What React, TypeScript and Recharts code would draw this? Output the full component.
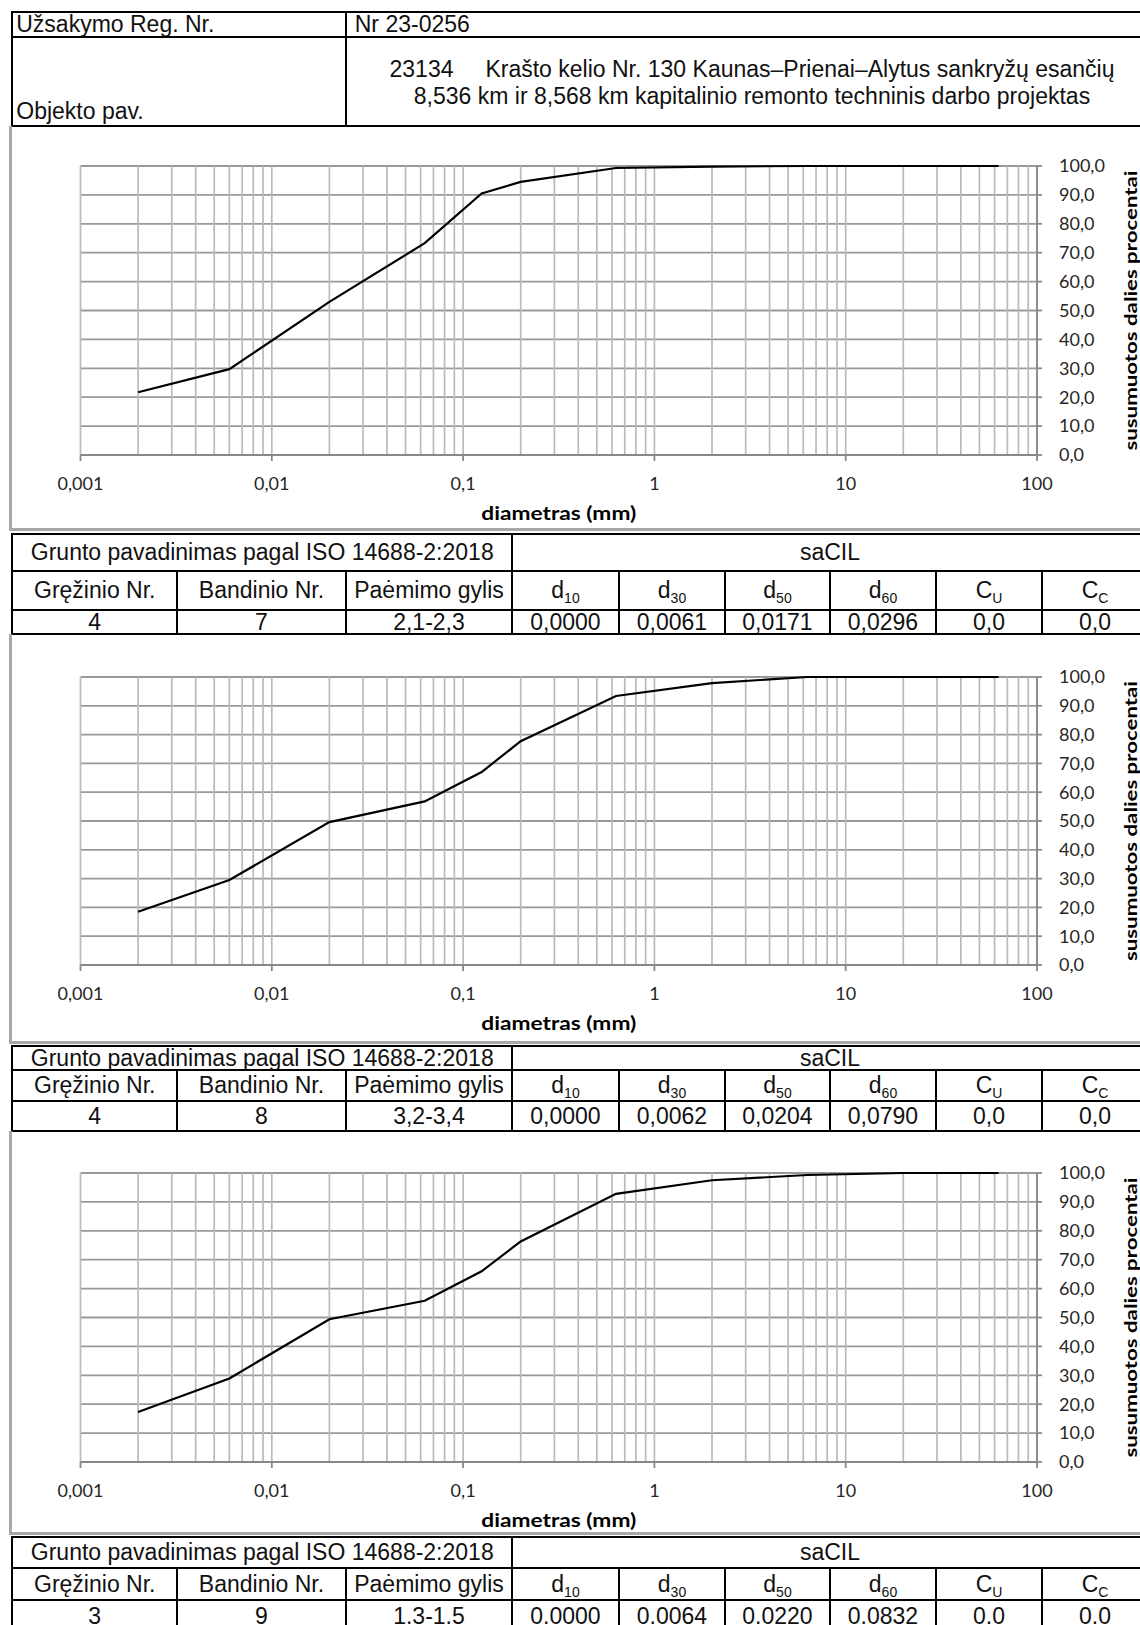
import React from 'react';
import { LineChart, Line, XAxis, YAxis, CartesianGrid, ReferenceLine, Label } from 'recharts';

// ---- data ----
const sieveSizes = [0.002, 0.006, 0.02, 0.063, 0.125, 0.2, 0.63, 2, 6.3, 20, 63];
const passing1 = [21.7, 29.7, 53.0, 73.3, 90.5, 94.5, 99.3, 99.8, 100, 100, 100];
const passing2 = [18.5, 29.5, 49.6, 56.8, 67.0, 77.7, 93.4, 97.9, 100, 100, 100];
const passing3 = [17.3, 28.9, 49.4, 55.8, 66.0, 76.3, 92.8, 97.5, 99.3, 100, 100];

const xTicks = [0.001, 0.01, 0.1, 1, 10, 100];
const yTicks = [0, 10, 20, 30, 40, 50, 60, 70, 80, 90, 100];
const gridX = [
  0.001, 0.002, 0.003, 0.004, 0.005, 0.006, 0.007, 0.008, 0.009,
  0.01, 0.02, 0.03, 0.04, 0.05, 0.06, 0.07, 0.08, 0.09,
  0.1, 0.2, 0.3, 0.4, 0.5, 0.6, 0.7, 0.8, 0.9,
  1, 2, 3, 4, 5, 6, 7, 8, 9,
  10, 20, 30, 40, 50, 60, 70, 80, 90, 100,
];

const orderNo = 'Nr 23-0256';
const objectLine1 = '23134\u00a0\u00a0\u00a0\u00a0\u00a0Krašto kelio Nr. 130 Kaunas–Prienai–Alytus sankryžų esančių';
const objectLine2 = '8,536 km ir 8,568 km kapitalinio remonto techninis darbo projektas';
const soilStdLabel = 'Grunto pavadinimas pagal ISO 14688-2:2018';
const soilNames = ['saCIL', 'saCIL', 'saCIL'];
const boreholes = ['4', '4', '3'];
const samples = ['7', '8', '9'];
const depths = ['2,1-2,3', '3,2-3,4', '1.3-1.5'];
const d10 = ['0,0000', '0,0000', '0.0000'];
const d30 = ['0,0061', '0,0062', '0.0064'];
const d50 = ['0,0171', '0,0204', '0.0220'];
const d60 = ['0,0296', '0,0790', '0.0832'];
const cu = ['0,0', '0,0', '0.0'];
const cc = ['0,0', '0,0', '0.0'];
const passingSets = [passing1, passing2, passing3];

// ---- layout ----
const SECTIONS = [
  { top: 126, bottom: 531, plotTop: 166, plotBottom: 455 },
  { top: 634, bottom: 1044, plotTop: 677, plotBottom: 965 },
  { top: 1131, bottom: 1535, plotTop: 1173, plotBottom: 1462 },
];
const TABLES = [
  [534, 571, 610, 634],
  [1046, 1070, 1101, 1131],
  [1537, 1568, 1600, 1632],
];
const COLS = [12.5, 177, 346, 512, 619, 725, 830, 936, 1042, 1148];

const tableFont = "'Liberation Sans', Arial, sans-serif";
const chartFont = "Lato, 'Open Sans', sans-serif";

function Cell({ x1, x2, y1, y2, children, align = 'center', valign = 'center', pad = 0, style = {} }: any) {
  return (
    <div
      style={{
        position: 'absolute',
        left: x1 - 1.25,
        top: y1 - 1.25,
        width: x2 - x1 + 2.5,
        height: y2 - y1 + 2.5,
        border: '2.5px solid #000',
        boxSizing: 'border-box',
        display: 'flex',
        alignItems: valign === 'center' ? 'center' : valign === 'bottom' ? 'flex-end' : 'flex-start',
        justifyContent: align === 'center' ? 'center' : 'flex-start',
        paddingLeft: pad,
        fontFamily: tableFont,
        fontSize: 23,
        color: '#111',
        whiteSpace: 'nowrap',
        overflow: 'visible',
        lineHeight: 1,
        background: '#fff',
        ...style,
      }}
    >
      {children}
    </div>
  );
}

const Sub = ({ b, s }: any) => (
  <span>
    {b}
    <span style={{ fontSize: 14, position: 'relative', top: 5 }}>{s}</span>
  </span>
);

function SoilTable({ idx }: { idx: number }) {
  const [r0, r1, r2, r3] = TABLES[idx];
  const heads = [
    'Gręžinio Nr.',
    'Bandinio Nr.',
    'Paėmimo gylis',
    <Sub b="d" s="10" />,
    <Sub b="d" s="30" />,
    <Sub b="d" s="50" />,
    <Sub b="d" s="60" />,
    <Sub b="C" s="U" />,
    <Sub b="C" s="C" />,
  ];
  const vals = [boreholes[idx], samples[idx], depths[idx], d10[idx], d30[idx], d50[idx], d60[idx], cu[idx], cc[idx]];
  return (
    <>
      <Cell x1={COLS[0]} x2={COLS[3]} y1={r0} y2={r1}>{soilStdLabel}</Cell>
      <Cell x1={COLS[3]} x2={COLS[9]} y1={r0} y2={r1}>{soilNames[idx]}</Cell>
      {heads.map((h, i) => (
        <Cell key={'h' + i} x1={COLS[i]} x2={COLS[i + 1]} y1={r1} y2={r2}>{h}</Cell>
      ))}
      {vals.map((v, i) => (
        <Cell key={'v' + i} x1={COLS[i]} x2={COLS[i + 1]} y1={r2} y2={r3}>{v}</Cell>
      ))}
    </>
  );
}

const fmtX = (v: number) => String(v).replace('.', ',');
const fmtY = (v: number) => v.toFixed(1).replace('.', ',');

const XTitle = (props: any) => {
  const vb = props.viewBox || { x: 0, y: 0, width: 0, height: 0 };
  const x = vb.x + vb.width / 2;
  const y = vb.y + 57;
  return (
    <text
      x={x}
      y={y}
      textAnchor="middle"
      dominantBaseline="central"
      fontFamily={chartFont}
      fontWeight={700}
      fontSize={19}
      fill="#000"
      textLength={155}
      lengthAdjust="spacingAndGlyphs"
    >
      diametras (mm)
    </text>
  );
};

const YTitle = (props: any) => {
  const vb = props.viewBox || { x: 0, y: 0, width: 0, height: 0 };
  const x = vb.x + 93;
  const y = vb.y + vb.height / 2;
  return (
    <text
      x={x}
      y={y}
      transform={`rotate(-90 ${x} ${y})`}
      textAnchor="middle"
      dominantBaseline="central"
      fontFamily={chartFont}
      fontWeight={700}
      fontSize={17}
      fill="#000"
      textLength={280}
      lengthAdjust="spacingAndGlyphs"
    >
      susumuotos dalies procentai
    </text>
  );
};

function GradingChart({ idx }: { idx: number }) {
  const s = SECTIONS[idx];
  const height = s.bottom - s.top;
  const xAxisH = 70;
  const data = sieveSizes.map((d, i) => ({ d, p: passingSets[idx][i] }));
  const marginTop = s.plotTop - s.top;
  const marginBottom = s.bottom - s.plotBottom - xAxisH;
  return (
    <div style={{ position: 'absolute', left: 0, top: s.top, width: 1140, height }}>
      <LineChart
        width={1140}
        height={height}
        data={data}
        margin={{ top: marginTop, right: 43, bottom: marginBottom, left: 80.5 }}
      >
        <CartesianGrid vertical={false} stroke="#999999" strokeWidth={1.8} />
        {gridX.map((gx) => (
          <ReferenceLine key={gx} x={gx} stroke="#bababa" strokeWidth={1.7} />
        ))}
        <XAxis
          dataKey="d"
          type="number"
          scale="log"
          domain={[0.001, 100]}
          ticks={xTicks}
          interval={0}
          tickFormatter={fmtX}
          height={xAxisH}
          tickSize={6}
          tickMargin={16}
          axisLine={{ stroke: '#888888', strokeWidth: 1.8 }}
          tickLine={{ stroke: '#888888', strokeWidth: 1.8 }}
          tick={{ fontFamily: chartFont, fontSize: 18, fill: '#262626' }}
        >
          <Label content={<XTitle />} />
        </XAxis>
        <YAxis
          orientation="right"
          type="number"
          domain={[0, 100]}
          ticks={yTicks}
          interval={0}
          tickFormatter={fmtY}
          width={60}
          tickSize={5}
          tickMargin={17}
          axisLine={{ stroke: '#888888', strokeWidth: 1.8 }}
          tickLine={{ stroke: '#888888', strokeWidth: 1.8 }}
          tick={{ fontFamily: chartFont, fontSize: 18, fill: '#262626' }}
        >
          <Label content={<YTitle />} />
        </YAxis>
        <Line
          dataKey="p"
          type="linear"
          stroke="#000"
          strokeWidth={2.2}
          dot={false}
          activeDot={false}
          isAnimationActive={false}
        />
      </LineChart>
    </div>
  );
}

export default function App() {
  return (
    <div style={{ position: 'absolute', left: 0, top: 0, width: 1140, height: 1625, overflow: 'hidden', background: '#fff' }}>
      {/* header table */}
      <Cell x1={12.5} x2={346} y1={12.5} y2={37} align="left" pad={3}>Užsakymo Reg. Nr.</Cell>
      <Cell x1={346} x2={1158} y1={12.5} y2={37} align="left" pad={8}>{orderNo}</Cell>
      <Cell x1={12.5} x2={346} y1={37} y2={126} align="left" valign="bottom" pad={3} style={{ paddingBottom: 2 }}>
        Objekto pav.
      </Cell>
      <Cell x1={346} x2={1158} y1={37} y2={126}>
        <div style={{ textAlign: 'center', lineHeight: '27px', paddingTop: 2 }}>
          <div>{objectLine1}</div>
          <div>{objectLine2}</div>
        </div>
      </Cell>

      {SECTIONS.map((s, i) => (
        <React.Fragment key={i}>
          <div style={{ position: 'absolute', left: 9, top: s.top, width: 3, height: s.bottom - s.top, background: '#a8a8a8' }} />
          <div style={{ position: 'absolute', left: 9, top: s.bottom - 3, width: 1140, height: 3, background: '#a8a8a8' }} />
          <GradingChart idx={i} />
          <SoilTable idx={i} />
        </React.Fragment>
      ))}
    </div>
  );
}
